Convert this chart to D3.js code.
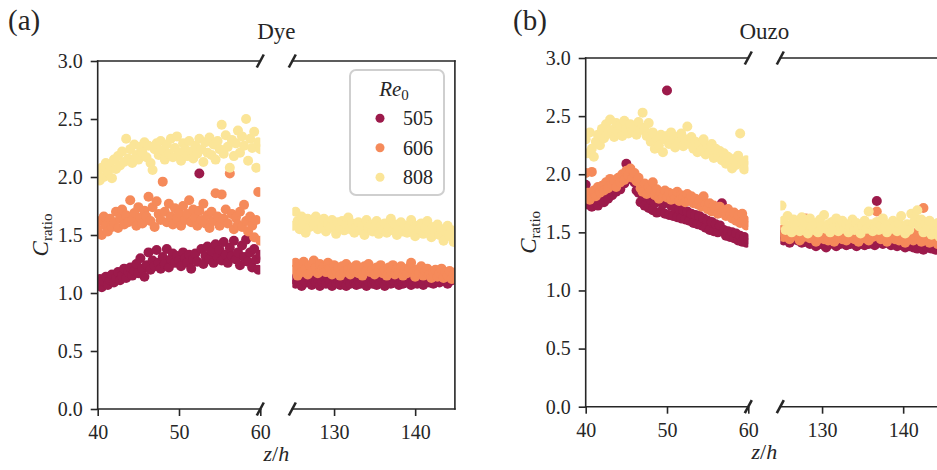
<!DOCTYPE html>
<html>
<head>
<meta charset="utf-8">
<script src="https://cdn.jsdelivr.net/npm/d3@7"></script>
<style>
  body { margin: 0; background: #ffffff; }
  svg { display: block; font-family: "Liberation Serif", "DejaVu Serif", serif; }
</style>
</head>
<body>
<svg id="chart" width="937" height="470"></svg>
<script>
// Reynolds-number series, in drawing order
const seriesNames = ["505", "606", "808"];
const seriesColors = ["#9c1a4b", "#f58a5a", "#fbe598"];

// Measurement stations (z/h): near field and far field
const nearZ = d3.range(40, 60.001, 0.25);
const farZ = d3.range(125, 145.001, 0.25);

// Axis ticks
const yTicks = [0, 0.5, 1.0, 1.5, 2.0, 2.5, 3.0];
const nearTicks = [40, 50, 60];
const farTicks = [130, 140];

// ---- Dye: C_ratio, near field (z/h 40-60) ----
const dyeNear505 = [
  1.08,1.12,1.05,1.10,1.14,1.07,1.11,1.16,
  1.09,1.13,1.18,1.11,1.15,1.21,1.13,1.18,
  1.22,1.15,1.19,1.25,1.17,1.30,1.21,1.14,
  1.24,1.35,1.20,1.28,1.23,1.37,1.26,1.21,
  1.31,1.25,1.38,1.22,1.29,1.34,1.26,1.32,
  1.28,1.23,1.35,1.30,1.26,1.33,1.21,1.29,
  1.34,1.27,2.03,1.38,1.25,1.32,1.40,1.29,
  1.36,1.26,1.42,1.31,1.37,1.28,1.44,1.33,
  1.26,1.39,1.32,1.45,1.29,1.35,1.24,1.41,
  1.31,1.46,1.27,1.35,1.22,1.38,1.29,1.20,
  1.33];
const dyeNear606 = [
  1.55,1.62,1.50,1.66,1.58,1.53,1.64,1.57,
  1.61,1.70,1.56,1.64,1.72,1.59,1.67,1.61,
  1.80,1.63,1.69,1.58,1.74,1.65,1.60,1.71,
  1.66,1.83,1.62,1.74,1.57,1.79,1.68,1.63,
  1.96,1.70,1.61,1.77,1.66,1.59,1.73,1.64,
  1.69,1.58,1.75,1.63,1.68,1.80,1.61,1.72,
  1.65,1.58,1.71,1.63,1.77,1.60,1.67,1.56,
  1.70,1.62,1.86,1.66,1.58,1.85,1.64,1.72,
  1.60,2.03,1.68,1.55,1.65,1.59,1.70,1.57,
  1.76,1.62,1.53,1.66,1.58,1.48,1.63,1.87,
  1.45];
const dyeNear808 = [
  2.02,1.97,2.08,2.00,2.12,2.04,2.10,1.99,
  2.15,2.07,2.18,2.10,2.22,2.13,2.33,2.16,
  2.24,2.12,2.28,2.19,2.15,2.26,2.21,2.30,
  2.17,2.27,2.12,2.06,2.24,2.29,2.19,2.31,
  2.23,2.15,2.28,2.20,2.33,2.17,2.25,2.35,
  2.21,2.14,2.29,2.24,2.18,2.31,2.22,2.16,
  2.27,2.20,2.33,2.24,2.13,2.30,2.21,2.34,
  2.19,2.28,2.15,2.31,2.24,2.45,2.20,2.36,
  2.26,2.08,2.32,2.18,2.29,2.40,2.21,2.35,
  2.27,2.50,2.14,2.33,2.25,2.39,2.08,2.30,
  2.24];

// ---- Dye: C_ratio, far field (z/h 125-145) ----
const dyeFar505 = [
  1.12,1.08,1.14,1.10,1.06,1.13,1.09,1.15,
  1.11,1.07,1.13,1.09,1.12,1.06,1.10,1.14,
  1.08,1.12,1.10,1.06,1.13,1.09,1.11,1.07,
  1.12,1.09,1.06,1.11,1.08,1.13,1.10,1.07,
  1.11,1.08,1.12,1.09,1.06,1.10,1.13,1.08,
  1.10,1.07,1.12,1.09,1.11,1.06,1.10,1.13,
  1.08,1.11,1.09,1.12,1.07,1.10,1.08,1.11,
  1.09,1.13,1.07,1.10,1.12,1.08,1.11,1.09,
  1.07,1.11,1.14,1.09,1.12,1.08,1.10,1.13,
  1.09,1.12,1.16,1.10,1.08,1.13,1.11,1.15,
  1.12];
const dyeFar606 = [
  1.20,1.26,1.15,1.23,1.18,1.27,1.21,1.16,
  1.24,1.19,1.28,1.22,1.17,1.25,1.20,1.23,
  1.18,1.26,1.21,1.16,1.24,1.19,1.22,1.15,
  1.23,1.18,1.25,1.20,1.16,1.22,1.19,1.24,
  1.17,1.21,1.15,1.23,1.19,1.25,1.18,1.21,
  1.16,1.22,1.19,1.24,1.17,1.20,1.15,1.22,
  1.19,1.24,1.16,1.21,1.18,1.23,1.15,1.20,
  1.17,1.22,1.26,1.18,1.14,1.20,1.17,1.23,
  1.15,1.19,1.21,1.16,1.13,1.18,1.20,1.14,
  1.17,1.21,1.13,1.18,1.15,1.19,1.12,1.16,
  1.18];
const dyeFar808 = [
  1.58,1.70,1.62,1.55,1.66,1.60,1.52,1.64,
  1.57,1.63,1.59,1.66,1.55,1.61,1.57,1.64,
  1.53,1.60,1.56,1.63,1.58,1.51,1.61,1.56,
  1.62,1.54,1.59,1.65,1.55,1.60,1.52,1.57,
  1.61,1.54,1.58,1.50,1.63,1.56,1.59,1.53,
  1.57,1.62,1.51,1.58,1.55,1.60,1.52,1.56,
  1.64,1.54,1.59,1.50,1.56,1.61,1.53,1.58,
  1.52,1.57,1.63,1.54,1.49,1.58,1.55,1.60,
  1.51,1.56,1.62,1.53,1.48,1.57,1.52,1.59,
  1.50,1.55,1.45,1.53,1.58,1.49,1.54,1.44,
  1.52];

// ---- Ouzo: C_ratio, near field (z/h 40-60) ----
const ouzoNear505 = [
  1.91,1.74,1.79,1.72,1.76,1.81,1.73,1.78,
  1.80,1.76,1.84,1.79,1.86,1.82,1.88,1.85,
  1.90,1.87,1.94,1.92,2.09,1.99,1.96,2.01,
  1.93,1.86,1.84,1.76,1.82,1.73,1.80,1.71,
  1.78,1.69,1.75,1.67,1.77,1.68,1.74,1.66,
  2.72,1.65,1.73,1.64,1.71,1.63,1.70,1.62,
  1.69,1.61,1.68,1.60,1.66,1.58,1.65,1.57,
  1.64,1.56,1.62,1.54,1.60,1.52,1.59,1.51,
  1.57,1.50,1.56,1.75,1.52,1.47,1.51,1.46,
  1.50,1.45,1.49,1.43,1.47,1.42,1.46,1.41,
  1.44];
const ouzoNear606 = [
  2.01,1.84,1.78,2.02,1.86,1.81,1.89,1.84,
  1.90,1.86,1.93,1.88,1.96,1.91,1.94,1.89,
  1.97,1.93,2.00,1.95,2.03,1.99,2.05,1.97,
  2.01,1.94,1.97,1.88,1.85,1.92,1.83,1.89,
  1.86,1.93,1.82,1.87,1.79,1.84,1.81,1.86,
  1.80,1.84,1.78,1.83,1.79,1.85,1.77,1.82,
  1.80,1.76,1.83,1.78,1.81,1.75,1.79,1.74,
  1.77,1.72,1.81,1.74,1.70,1.75,1.68,1.73,
  1.70,1.66,1.72,1.67,1.69,1.64,1.70,1.65,
  1.62,1.67,1.60,1.65,1.58,1.66,1.61,1.56,
  1.59];
const ouzoNear808 = [
  2.30,2.18,2.36,2.22,2.15,2.28,2.34,2.25,
  2.39,2.31,2.43,2.35,2.47,2.38,2.32,2.44,
  2.36,2.42,2.33,2.46,2.39,2.35,2.43,2.37,
  2.41,2.34,2.45,2.38,2.53,2.40,2.33,2.44,
  2.28,2.36,2.22,2.31,2.25,2.34,2.19,2.30,
  2.33,2.26,2.36,2.29,2.23,2.32,2.27,2.35,
  2.24,2.30,2.41,2.26,2.32,2.22,2.28,2.19,
  2.27,2.21,2.30,2.17,2.24,2.19,2.26,2.14,
  2.22,2.16,2.20,2.12,2.18,2.09,2.15,2.11,
  2.05,2.13,2.08,2.16,2.35,2.10,2.04,2.12,
  2.07];

// ---- Ouzo: C_ratio, far field (z/h 125-145) ----
const ouzoFar505 = [
  1.48,1.43,1.52,1.45,1.41,1.47,1.44,1.49,
  1.43,1.46,1.41,1.45,1.42,1.47,1.40,1.44,
  1.42,1.38,1.44,1.40,1.43,1.39,1.37,1.42,
  1.40,1.44,1.41,1.38,1.43,1.40,1.45,1.41,
  1.39,1.43,1.40,1.44,1.41,1.38,1.42,1.40,
  1.43,1.39,1.42,1.40,1.44,1.41,1.39,1.77,
  1.42,1.45,1.40,1.43,1.41,1.44,1.39,1.42,
  1.40,1.38,1.42,1.39,1.41,1.37,1.40,1.38,
  1.41,1.37,1.39,1.36,1.40,1.38,1.35,1.39,
  1.37,1.40,1.36,1.38,1.35,1.39,1.36,1.34,
  1.37];
const ouzoFar606 = [
  1.52,1.46,1.55,1.49,1.44,1.51,1.47,1.53,
  1.48,1.43,1.50,1.46,1.62,1.49,1.45,1.52,
  1.47,1.42,1.49,1.45,1.51,1.44,1.48,1.43,
  1.50,1.46,1.42,1.48,1.45,1.51,1.44,1.47,
  1.43,1.49,1.46,1.51,1.44,1.48,1.42,1.47,
  1.50,1.45,1.48,1.43,1.49,1.46,1.51,1.68,
  1.47,1.44,1.49,1.45,1.42,1.48,1.46,1.50,
  1.44,1.47,1.43,1.49,1.45,1.41,1.47,1.44,
  1.48,1.43,1.46,1.50,1.44,1.42,1.71,1.47,
  1.45,1.41,1.48,1.43,1.46,1.40,1.44,1.42,
  1.45];
const ouzoFar808 = [
  1.73,1.60,1.52,1.64,1.56,1.50,1.61,1.55,
  1.59,1.51,1.63,1.54,1.58,1.49,1.62,1.55,
  1.52,1.58,1.50,1.61,1.55,1.65,1.53,1.57,
  1.50,1.59,1.54,1.62,1.51,1.56,1.60,1.53,
  1.57,1.50,1.55,1.61,1.52,1.58,1.54,1.49,
  1.56,1.60,1.53,1.68,1.57,1.51,1.55,1.59,
  1.52,1.56,1.62,1.54,1.50,1.57,1.53,1.60,
  1.55,1.51,1.58,1.64,1.54,1.49,1.57,1.52,
  1.66,1.58,1.62,1.69,1.55,1.61,1.50,1.57,
  1.53,1.60,1.48,1.56,1.51,1.58,1.46,1.54,
  1.50];

const panels = [
  { tag: "(a)", tagX: 8, title: "Dye", left: 97.7, top: 61, bottom: 409, legend: true,
    near: [dyeNear505, dyeNear606, dyeNear808], far: [dyeFar505, dyeFar606, dyeFar808] },
  { tag: "(b)", tagX: 513, title: "Ouzo", left: 585.7, top: 58, bottom: 406.7, legend: false,
    near: [ouzoNear505, ouzoNear606, ouzoNear808], far: [ouzoFar505, ouzoFar606, ouzoFar808] }
];

const subW = 162.6;      // width of each x-segment
const gap = 32;          // space between the two segments
const farDomain = [124.85, 144.9];
const ink = "#262626";
const markerR = 5;

const svg = d3.select("#chart");

panels.forEach((p, pi) => {
  const g = svg.append("g");
  const xNear = d3.scaleLinear().domain([40, 60]).range([p.left, p.left + subW]);
  const xFar = d3.scaleLinear().domain(farDomain).range([p.left + subW + gap, p.left + 2 * subW + gap]);
  const y = d3.scaleLinear().domain([0, 3]).range([p.bottom, p.top]);

  // clip regions for each segment
  const segs = [
    { key: "near", x: xNear, z: nearZ, vals: p.near },
    { key: "far", x: xFar, z: farZ, vals: p.far }
  ];
  segs.forEach(s => {
    const id = `clip-${pi}-${s.key}`;
    const r = s.x.range();
    svg.append("clipPath").attr("id", id)
      .append("rect").attr("x", r[0]).attr("y", p.top)
      .attr("width", r[1] - r[0]).attr("height", p.bottom - p.top);
    const pg = g.append("g").attr("clip-path", `url(#${id})`);
    s.vals.forEach((vals, si) => {
      pg.append("g").selectAll("circle")
        .data(vals.map((v, i) => ({ z: s.z[i], v })))
        .join("circle")
        .attr("cx", d => s.x(d.z))
        .attr("cy", d => y(d.v))
        .attr("r", markerR)
        .attr("fill", seriesColors[si]);
    });
  });

  // y axis (near segment only)
  const yAx = g.append("g").attr("transform", `translate(${p.left},0)`)
    .call(d3.axisLeft(y).tickValues(yTicks).tickFormat(d3.format(".1f")).tickSize(7).tickPadding(8));
  // x axes
  const xAxN = g.append("g").attr("transform", `translate(0,${p.bottom})`)
    .call(d3.axisBottom(xNear).tickValues(nearTicks).tickSize(7).tickPadding(9));
  const xAxF = g.append("g").attr("transform", `translate(0,${p.bottom})`)
    .call(d3.axisBottom(xFar).tickValues(farTicks).tickSize(7).tickPadding(9));
  [yAx, xAxN, xAxF].forEach(a => {
    a.select(".domain").remove();
    a.selectAll(".tick line").attr("stroke", ink).attr("stroke-width", 1.6);
    a.selectAll(".tick text").attr("fill", ink).style("font-size", "20px")
      .style("font-family", '"Liberation Serif", serif');
  });

  // spines
  const nL = xNear.range()[0], nR = xNear.range()[1];
  const fL = xFar.range()[0], fR = xFar.range()[1];
  const spine = (x1, y1, x2, y2) => g.append("line")
    .attr("x1", x1).attr("y1", y1).attr("x2", x2).attr("y2", y2)
    .attr("stroke", ink).attr("stroke-width", 1.6).attr("stroke-linecap", "square");
  spine(nL, p.top, nL, p.bottom);
  spine(nL, p.top, nR, p.top);
  spine(nL, p.bottom, nR, p.bottom);
  spine(fL, p.top, fR, p.top);
  spine(fL, p.bottom, fR, p.bottom);
  spine(fR, p.top, fR, p.bottom);

  // axis-break slashes
  [[nR, p.top], [nR, p.bottom], [fL, p.top], [fL, p.bottom]].forEach(([cx, cy]) => {
    g.append("line")
      .attr("x1", cx - 3.5).attr("y1", cy + 6.5)
      .attr("x2", cx + 3.5).attr("y2", cy - 6.5)
      .attr("stroke", ink).attr("stroke-width", 2.6);
  });

  const midX = (nL + fR) / 2;
  // title and panel tag
  g.append("text").attr("x", midX).attr("y", 39).attr("text-anchor", "middle")
    .style("font-size", "23px").attr("fill", ink).text(p.title);
  g.append("text").attr("x", p.tagX).attr("y", 30)
    .style("font-size", "29px").attr("fill", ink).text(p.tag);

  // x label z/h
  const xl = g.append("text").attr("x", midX).attr("y", p.bottom + 52)
    .attr("text-anchor", "middle").style("font-size", "22px").attr("fill", ink);
  xl.append("tspan").style("font-style", "italic").text("z");
  xl.append("tspan").text("/");
  xl.append("tspan").style("font-style", "italic").text("h");

  // y label C_ratio
  const yl = g.append("text")
    .attr("transform", `translate(${p.left - 50},${(p.top + p.bottom) / 2}) rotate(-90)`)
    .attr("text-anchor", "middle").style("font-size", "23px").attr("fill", ink);
  yl.append("tspan").style("font-style", "italic").text("C");
  yl.append("tspan").attr("dy", 4).style("font-size", "15px").text("ratio");

  // legend
  if (p.legend) {
    const lg = g.append("g");
    lg.append("rect").attr("x", 350).attr("y", 70).attr("width", 94).attr("height", 125)
      .attr("rx", 6).attr("fill", "#ffffff").attr("fill-opacity", 0.8)
      .attr("stroke", "#cfcfcf").attr("stroke-width", 2);
    const lt = lg.append("text").attr("x", 394).attr("y", 96).attr("text-anchor", "middle")
      .style("font-size", "21px").attr("fill", ink);
    lt.append("tspan").style("font-style", "italic").text("Re");
    lt.append("tspan").attr("dy", 4).style("font-size", "15px").text("0");
    seriesNames.forEach((name, i) => {
      const cy = 118.3 + i * 29.5;
      lg.append("circle").attr("cx", 380).attr("cy", cy).attr("r", 4.5).attr("fill", seriesColors[i]);
      lg.append("text").attr("x", 403).attr("y", cy + 7).style("font-size", "20px")
        .attr("fill", ink).text(name);
    });
  }
});
</script>
</body>
</html>
